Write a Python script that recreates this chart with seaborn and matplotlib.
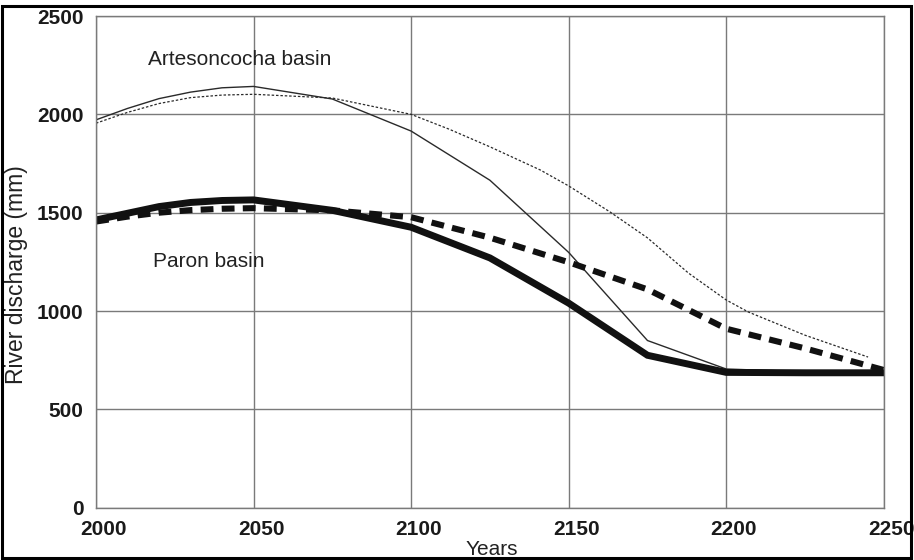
import pandas as pd
import matplotlib.pyplot as plt
import matplotlib.transforms as mtransforms
import seaborn as sns
from matplotlib.patches import Rectangle

# values
years = [2000, 2010, 2020, 2030, 2040, 2050, 2075, 2100, 2125, 2150, 2175, 2200, 2225, 2250]
artesoncocha_solid = [1972, 2030, 2080, 2113, 2135, 2142, 2078, 1915, 1665, 1298, 850, 705, 692, 688]
paron_solid = [1463, 1497, 1531, 1552, 1562, 1565, 1512, 1426, 1270, 1040, 775, 688, 686, 686]
paron_dashed = [1455, 1480, 1500, 1513, 1520, 1523, 1512, 1477, 1373, 1248, 1110, 910, 810, 700]

years_dotted = [2000, 2010, 2020, 2030, 2040, 2050, 2075, 2100, 2112, 2125, 2141, 2150,
                2163, 2175, 2188, 2200, 2207, 2225, 2245]
artesoncocha_dotted = [1955, 2010, 2055, 2085, 2098, 2102, 2083, 2000, 1925, 1835, 1717, 1636,
                       1505, 1372, 1193, 1056, 995, 877, 766]

x_ticks = [2000, 2050, 2100, 2150, 2200, 2250]
y_ticks = [0, 500, 1000, 1500, 2000, 2500]

sns.set_style('white')
plt.rcParams['font.family'] = ['Liberation Sans', 'DejaVu Sans']

df = pd.DataFrame({'Year': years, 'art': artesoncocha_solid,
                   'paron': paron_solid, 'paron_d': paron_dashed})
df_dot = pd.DataFrame({'Year': years_dotted, 'art_d': artesoncocha_dotted})

fig = plt.figure(figsize=(9.14, 5.6), dpi=100)
ax = fig.add_axes([0.105, 0.0934, 0.862, 0.878])

sns.lineplot(data=df, x='Year', y='art', ax=ax, color='#2a2a2a', lw=1.0)
sns.lineplot(data=df_dot, x='Year', y='art_d', ax=ax, color='#2a2a2a', lw=0.9,
             linestyle=(0, (2, 1.5)))
sns.lineplot(data=df, x='Year', y='paron', ax=ax, color='#111111', lw=5.0,
             solid_joinstyle='miter')
sns.lineplot(data=df, x='Year', y='paron_d', ax=ax, color='#111111', lw=4.4,
             linestyle=(0, (2.1, 1.35)))

ax.set_xlim(2000, 2250)
ax.set_ylim(0, 2500)
ax.set_xticks(x_ticks)
ax.set_yticks(y_ticks)
ax.grid(True, color='#7a7a7a', lw=1.0)
ax.set_axisbelow(True)
for s in ax.spines.values():
    s.set_color('#7a7a7a')
    s.set_linewidth(1.0)

ax.tick_params(axis='both', direction='out', length=3, width=1, color='#7a7a7a',
               labelsize=15, labelcolor='#1a1a1a', pad=6)
shift = mtransforms.ScaledTranslation(0.075, 0, fig.dpi_scale_trans)
for lab in ax.get_xticklabels():
    lab.set_fontweight('bold')
    lab.set_transform(lab.get_transform() + shift)
for lab in ax.get_yticklabels():
    lab.set_fontweight('bold')

ax.set_xlabel('Years', fontsize=15, color='#222222')
ax.set_ylabel('River discharge (mm)', fontsize=16.5, color='#222222')
ax.xaxis.set_label_coords(0.5025, -0.066)
ax.yaxis.set_label_coords(-0.086, 0.475)

ax.text(2016.5, 2251, 'Artesoncocha basin', fontsize=15, color='#222222', va='baseline')
ax.text(2018, 1224, 'Paron basin', fontsize=15, color='#222222', va='baseline')

# black frame round the whole figure
fig.patches.append(Rectangle((0.002, 0.004), 0.995, 0.986, transform=fig.transFigure,
                             fill=False, edgecolor='black', lw=2.2, zorder=10))

fig.savefig('out.png', dpi=100)
